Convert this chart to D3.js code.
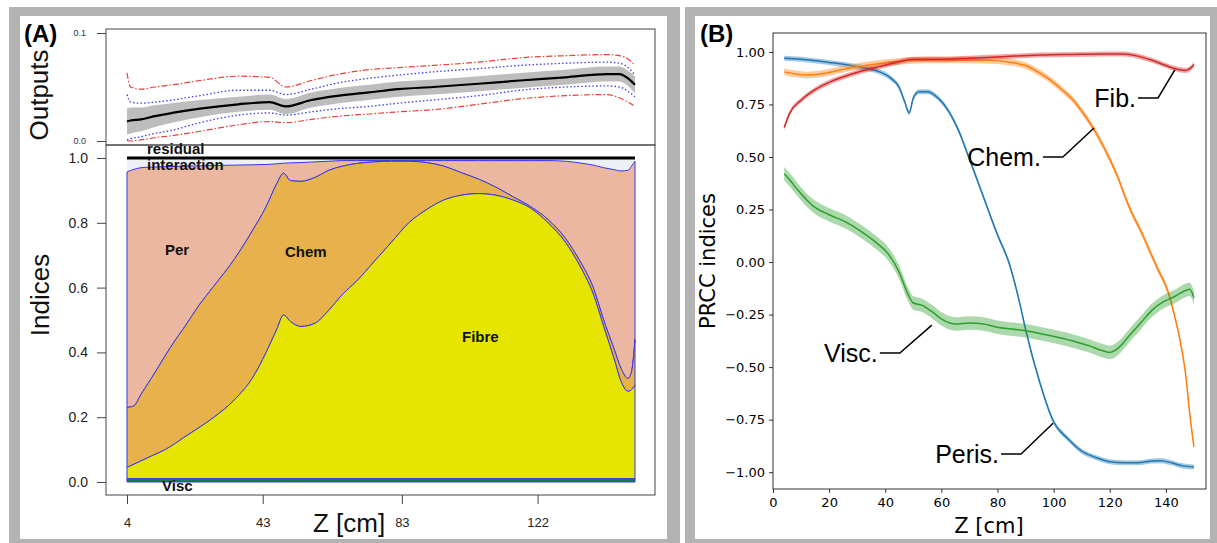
<!DOCTYPE html>
<html>
<head>
<meta charset="utf-8">
<script src="https://d3js.org/d3.v7.min.js"></script>
<style>
  body { margin: 0; background: #fff; }
  .rA { font-family: "Liberation Sans", Arial, Helvetica, sans-serif; }
  .mpl { font-family: "DejaVu Sans", sans-serif; }
  .ann { font-family: "Liberation Sans", Arial, sans-serif; }
</style>
</head>
<body>
<script>
// ---------- panel A : sensitivity indices along Z ----------
var zA = [4,6,8,11,15,18,20,25,29,35,40,44,47,49,51,54,58,62,66,70,75,80,85,90,95,100,105,110,115,120,125,130,134,138,141,144,146,148,149,150];
var visc = [.01,.01,.01,.01,.01,.01,.01,.01,.01,.01,.01,.01,.01,.01,.01,.01,.01,.01,.01,.01,.01,.01,.01,.01,.01,.01,.01,.01,.01,.01,.01,.01,.01,.01,.01,.01,.01,.01,.01,.01];
var fibre = [.035,.045,.055,.07,.09,.11,.125,.16,.19,.245,.31,.39,.46,.505,.485,.47,.48,.52,.57,.61,.67,.73,.79,.83,.86,.875,.88,.875,.86,.835,.79,.73,.66,.57,.47,.37,.30,.27,.275,.29];
var chem = [.185,.18,.205,.24,.29,.32,.335,.38,.405,.435,.455,.45,.45,.438,.435,.448,.45,.432,.395,.363,.308,.25,.19,.146,.105,.07,.045,.025,.01,.005,.01,.012,.015,.02,.02,.03,.04,.04,.055,.14];
var per = [.727,.73,.70,.652,.583,.534,.505,.426,.372,.288,.204,.13,.062,.031,.055,.058,.048,.028,.017,.009,.004,.002,.002,.006,.017,.037,.057,.082,.112,.142,.182,.238,.30,.378,.47,.554,.61,.642,.635,.55];
var interaction = [.039,.031,.026,.024,.023,.022,.021,.020,.019,.018,.017,.016,.014,.012,.011,.010,.008,.006,.004,.004,.004,.004,.004,.004,.004,.004,.004,.004,.004,.004,.004,.006,.011,.018,.026,.032,.036,.034,.021,.006];
var residual = [.004,.004,.004,.004,.004,.004,.004,.004,.004,.004,.004,.004,.004,.004,.004,.004,.004,.004,.004,.004,.004,.004,.004,.004,.004,.004,.004,.004,.004,.004,.004,.004,.004,.004,.004,.004,.004,.004,.004,.004];
var keysA = ["visc","fibre","chem","per","interaction","residual"];
var xTicksA = [4,43,83,122];

// outputs (top strip of panel A)
var zTop = [4,5,8,12,17,25,36,45,49.6,57,65,73.5,82,92,105,117,130,142,145.5,148,150];
var outMean = [.018,.019,.020,.023,.026,.030,.034,.036,.032,.038,.042,.045,.048,.050,.053,.056,.059,.062,.062,.058,.052];
var outSd = [.012,.012,.011,.010,.009,.008,.007,.007,.007,.007,.007,.007,.007,.007,.007,.007,.007,.007,.007,.007,.008];
var blueHi = [.043,.036,.035,.036,.038,.042,.047,.047,.043,.048,.054,.058,.061,.064,.067,.070,.072,.073,.072,.068,.061];
var blueLo = [.001,.002,.004,.007,.010,.017,.024,.026,.024,.027,.030,.032,.035,.038,.042,.047,.050,.051,.050,.046,.041];
var redHi = [.063,.050,.048,.050,.052,.056,.060,.059,.050,.056,.062,.066,.068,.070,.073,.077,.079,.080,.079,.076,.070];
var redLo = [.000,.000,.001,.003,.005,.009,.015,.018,.017,.020,.023,.025,.027,.029,.034,.039,.042,.043,.040,.036,.032];

// ---------- panel B : PRCC indices ----------
var perisZ = [4,10,20,30,38,42,45,47,48.5,50,52,55,58,62,66,70,75,80,84,88,90,95,100,105,110,115,120,125,130,135,138,142,146,150];
var perisV = [.97,.965,.95,.93,.905,.875,.83,.76,.71,.78,.81,.81,.79,.73,.63,.49,.31,.13,0,-.2,-.32,-.57,-.76,-.84,-.90,-.93,-.95,-.955,-.955,-.947,-.945,-.955,-.97,-.975];
var chemZ = [4,8,12,17,26,38,50,60,77,85,90,95,99,103,107,111,114,117,120,123,125.5,128,131,134,137,141,143,145,147,148.5,150];
var chemV = [.905,.895,.89,.895,.92,.945,.96,.962,.96,.95,.935,.90,.865,.82,.77,.70,.64,.57,.49,.40,.31,.23,.15,.06,-.03,-.15,-.25,-.37,-.53,-.72,-.88];
var viscZ = [4,6,9,14,20,26,32,37,41,45,48,50,53,57,60,65,70,75,80,89,95,101,108,113,117,120,123,127,131,135,139,143,147,148.5,150];
var viscV = [.42,.39,.34,.27,.225,.19,.14,.09,.04,-.05,-.15,-.195,-.205,-.24,-.27,-.295,-.29,-.295,-.31,-.325,-.34,-.357,-.38,-.40,-.42,-.43,-.41,-.35,-.29,-.23,-.19,-.165,-.135,-.13,-.17];
var fibZ = [4,6,10,15,20,26,32,38,44,50,60,70,83,95,107,118,125,130,135,140,144,147,149,150];
var fibV = [.64,.71,.77,.82,.855,.885,.91,.93,.95,.965,.965,.97,.978,.985,.988,.99,.99,.98,.96,.935,.918,.912,.925,.94];
var bandB = [0.012, 0.016, 0.032, 0.012];
var colorsB = ["#1f77b4", "#ff7f0e", "#2ca02c", "#d62728"];
var yTicksB = [-1,-0.75,-0.5,-0.25,0,0.25,0.5,0.75,1];
var xTicksB = [0,20,40,60,80,100,120,140];

// annotations: label, target (Z, v), elbow (Z, v)
var annLabels = ["Fib.", "Chem.", "Visc.", "Peris."];
var annTarget = [[143.2,0.914],[114.4,0.638],[56.6,-0.30],[99.8,-0.767]];
var annElbow = [[137.2,0.781],[103.3,0.50],[45.2,-0.433],[88.4,-0.914]];

var svg = d3.select("body").append("svg")
    .attr("width", 1217).attr("height", 543)
    .style("display", "block");

svg.append("rect").attr("width", 1217).attr("height", 543).attr("fill", "#fff");

// gray frames round both panels
svg.append("rect").attr("x", 9).attr("y", 7).attr("width", 671).attr("height", 545).attr("fill", "#b3b3b3");
svg.append("rect").attr("x", 20).attr("y", 16).attr("width", 647).attr("height", 523).attr("fill", "#fff");
svg.append("rect").attr("x", 685).attr("y", 7).attr("width", 540).attr("height", 545).attr("fill", "#b3b3b3");
svg.append("rect").attr("x", 695).attr("y", 16).attr("width", 515).attr("height", 523).attr("fill", "#fff");

// ================= PANEL A =================
var xA = d3.scaleLinear().domain([4, 150]).range([127, 635]);
var yA = d3.scaleLinear().domain([0, 1]).range([482, 158]);
var yTop = d3.scaleLinear().domain([0, 0.1]).range([141, 33]);

var gA = svg.append("g").attr("class", "rA");

// top strip: outputs
var bandTop = d3.area()
    .x(function(d, i) { return xA(zTop[i]); })
    .y0(function(d, i) { return yTop(outMean[i] - outSd[i]); })
    .y1(function(d, i) { return yTop(outMean[i] + outSd[i]); })
    .curve(d3.curveMonotoneX);
gA.append("path").datum(zTop).attr("d", bandTop).attr("fill", "#bdbdbd");

function topLine(arr) {
  return d3.line()
    .x(function(d, i) { return xA(zTop[i]); })
    .y(function(d, i) { return yTop(arr[i]); })
    .curve(d3.curveMonotoneX)(zTop);
}
[redHi, redLo].forEach(function(a) {
  gA.append("path").attr("d", topLine(a)).attr("fill", "none")
    .attr("stroke", "#e8413c").attr("stroke-width", 1.2).attr("stroke-dasharray", "6,2,1.5,2");
});
[blueHi, blueLo].forEach(function(a) {
  gA.append("path").attr("d", topLine(a)).attr("fill", "none")
    .attr("stroke", "#3b3bee").attr("stroke-width", 1.3).attr("stroke-dasharray", "1.5,2.2");
});
gA.append("path").attr("d", topLine(outMean)).attr("fill", "none")
  .attr("stroke", "#000").attr("stroke-width", 2.2);

gA.append("rect").attr("x", 106).attr("y", 29).attr("width", 549).attr("height", 116)
  .attr("fill", "none").attr("stroke", "#444").attr("stroke-width", 1);

var axTop = gA.append("g").attr("transform", "translate(106,0)")
  .call(d3.axisLeft(yTop).tickValues([0, 0.1]).tickFormat(d3.format(".1f")).tickSize(9).tickPadding(11));
axTop.select(".domain").remove();
axTop.selectAll("text").attr("font-size", 9).attr("fill", "#333").attr("font-family", "Liberation Sans, Arial, sans-serif");
axTop.selectAll("line").attr("stroke", "#444");

// stacked indices
var rowsA = zA.map(function(z, i) {
  return {z: z, visc: visc[i], fibre: fibre[i], chem: chem[i], per: per[i],
          interaction: interaction[i], residual: residual[i]};
});
var stackA = d3.stack().keys(keysA)(rowsA);
var fillA = {visc: "#13813b", fibre: "#e5e500", chem: "#e7b24b", per: "#ecb7a0",
             interaction: "#eef0f7", residual: "#ffffff"};
var areaA = d3.area()
    .x(function(d) { return xA(d.data.z); })
    .y0(function(d) { return yA(d[0]); })
    .y1(function(d) { return yA(d[1]); })
    .curve(d3.curveMonotoneX);

gA.append("g").selectAll("path").data(stackA.slice().reverse()).join("path")
  .attr("d", areaA)
  .attr("fill", function(d) { return fillA[d.key]; })
  .attr("stroke", function(d) { return d.key === "interaction" || d.key === "residual" ? "none" : "#3535f0"; })
  .attr("stroke-width", 1);

// line at 1.0
gA.append("line").attr("x1", xA(4)).attr("x2", xA(150)).attr("y1", yA(1)).attr("y2", yA(1))
  .attr("stroke", "#000").attr("stroke-width", 3);

gA.append("rect").attr("x", 106).attr("y", 145).attr("width", 549).attr("height", 350)
  .attr("fill", "none").attr("stroke", "#444").attr("stroke-width", 1);

var axYA = gA.append("g").attr("transform", "translate(106,0)")
  .call(d3.axisLeft(yA).tickValues([0, .2, .4, .6, .8, 1]).tickFormat(d3.format(".1f")).tickSize(9).tickPadding(9));
axYA.select(".domain").remove();
axYA.selectAll("text").attr("font-size", 14).attr("fill", "#222").attr("font-family", "Liberation Sans, Arial, sans-serif");
axYA.selectAll("line").attr("stroke", "#444");

var axXA = gA.append("g").attr("transform", "translate(0,495)")
  .call(d3.axisBottom(xA).tickValues(xTicksA).tickSize(9).tickPadding(14));
axXA.select(".domain").remove();
axXA.selectAll("text").attr("font-size", 13).attr("fill", "#222").attr("font-family", "Liberation Sans, Arial, sans-serif");
axXA.selectAll("line").attr("stroke", "#444");

// area labels
var labA = [["residual",147,154],["interaction",147,170],["Per",165,255],["Chem",285,257],["Fibre",462,342],["Visc",162,491]];
gA.selectAll("text.lab").data(labA).join("text").attr("class", "lab")
  .attr("x", function(d) { return d[1]; }).attr("y", function(d) { return d[2]; })
  .attr("font-size", 15).attr("font-weight", "bold").attr("fill", "#111")
  .text(function(d) { return d[0]; });

gA.append("text").attr("x", 313).attr("y", 532).attr("font-size", 26).attr("fill", "#111").text("Z [cm]");
gA.append("text").attr("transform", "translate(48,95) rotate(-90)").attr("text-anchor", "middle")
  .attr("font-size", 26).attr("fill", "#111").text("Outputs");
gA.append("text").attr("transform", "translate(49,295) rotate(-90)").attr("text-anchor", "middle")
  .attr("font-size", 26).attr("fill", "#111").text("Indices");
gA.append("text").attr("x", 24).attr("y", 42).attr("font-size", 24).attr("font-weight", "bold").text("(A)");

// ================= PANEL B =================
var xB = d3.scaleLinear().domain([0, 154.3]).range([773, 1206]);
var yB = d3.scaleLinear().domain([-1.08, 1.09]).range([489, 33]);
var gB = svg.append("g").attr("class", "mpl");

var seriesB = [[perisZ, perisV], [chemZ, chemV], [viscZ, viscV], [fibZ, fibV]];
seriesB.forEach(function(s, k) {
  var zs = s[0], vs = s[1], hw = bandB[k];
  var band = d3.area()
      .x(function(d, i) { return xB(zs[i]); })
      .y0(function(d, i) { return yB(vs[i] - hw); })
      .y1(function(d, i) { return yB(vs[i] + hw); })
      .curve(d3.curveMonotoneX);
  gB.append("path").datum(zs).attr("d", band).attr("fill", colorsB[k]).attr("fill-opacity", 0.4);
  var ln = d3.line()
      .x(function(d, i) { return xB(zs[i]); })
      .y(function(d, i) { return yB(vs[i]); })
      .curve(d3.curveMonotoneX);
  gB.append("path").datum(zs).attr("d", ln).attr("fill", "none")
    .attr("stroke", colorsB[k]).attr("stroke-width", 1.5);
});

gB.append("rect").attr("x", 773).attr("y", 33).attr("width", 433).attr("height", 456)
  .attr("fill", "none").attr("stroke", "#000").attr("stroke-width", 0.8);

var axYB = gB.append("g").attr("transform", "translate(773,0)")
  .call(d3.axisLeft(yB).tickValues(yTicksB).tickFormat(d3.format(".2f")).tickSize(4).tickPadding(4));
axYB.select(".domain").remove();
axYB.selectAll("text").attr("font-size", 13).attr("fill", "#000").attr("font-family", "DejaVu Sans, sans-serif");
axYB.selectAll("line").attr("stroke", "#000").attr("stroke-width", 0.8);

var axXB = gB.append("g").attr("transform", "translate(0,489)")
  .call(d3.axisBottom(xB).tickValues(xTicksB).tickFormat(d3.format("d")).tickSize(4).tickPadding(5));
axXB.select(".domain").remove();
axXB.selectAll("text").attr("font-size", 13).attr("fill", "#000").attr("font-family", "DejaVu Sans, sans-serif");
axXB.selectAll("line").attr("stroke", "#000").attr("stroke-width", 0.8);

gB.append("text").attr("x", 989).attr("y", 533).attr("text-anchor", "middle")
  .attr("font-size", 21).text("Z [cm]");
gB.append("text").attr("transform", "translate(715,261) rotate(-90)").attr("text-anchor", "middle")
  .attr("font-size", 21).text("PRCC indices");
svg.append("text").attr("class", "rA").attr("x", 700).attr("y", 42)
  .attr("font-size", 24).attr("font-weight", "bold").text("(B)");

// leader-line annotations
annLabels.forEach(function(lab, i) {
  var tx = xB(annTarget[i][0]), ty = yB(annTarget[i][1]);
  var ex = xB(annElbow[i][0]), ey = yB(annElbow[i][1]);
  gB.append("polyline")
    .attr("points", [[ex - 20, ey], [ex, ey], [tx, ty]].map(function(p) { return p.join(","); }).join(" "))
    .attr("fill", "none").attr("stroke", "#000").attr("stroke-width", 1.5);
  gB.append("text").attr("class", "ann").attr("x", ex - 22).attr("y", ey + 9)
    .attr("text-anchor", "end").attr("font-size", 25).attr("fill", "#000").text(lab);
});
</script>
</body>
</html>
